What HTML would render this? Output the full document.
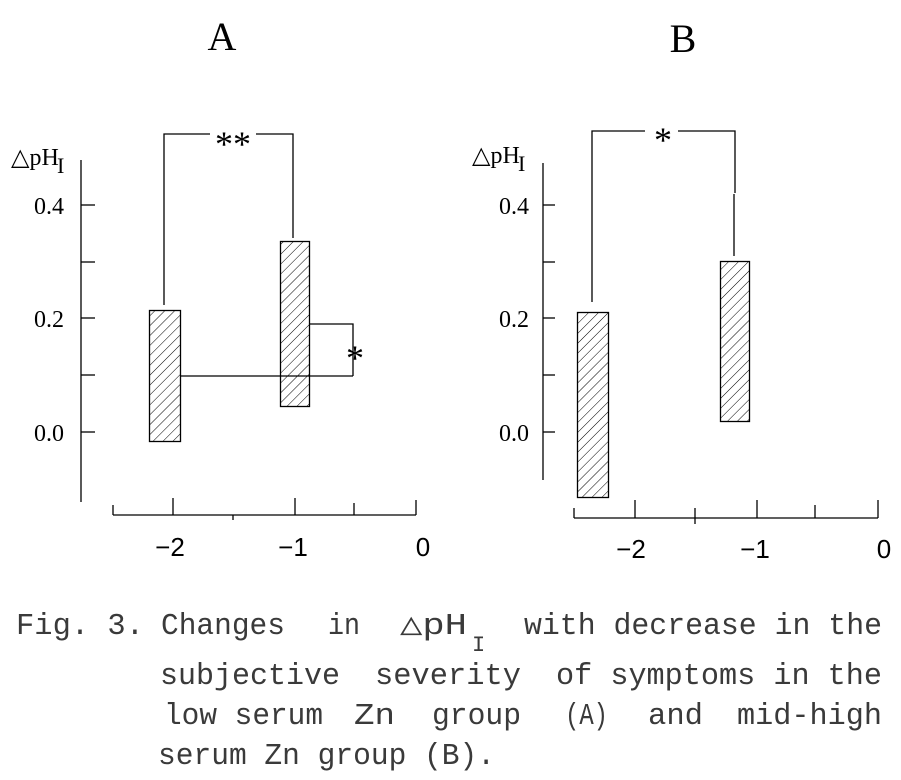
<!DOCTYPE html>
<html><head><meta charset="utf-8"><style>
html,body{margin:0;padding:0;background:#fff;}
svg{display:block;}
.s{font-family:"Liberation Serif",serif;fill:#000;}
.m{font-family:"Liberation Mono",monospace;fill:#3a3a3a;font-size:31px;}
.t{font-family:"Liberation Sans",sans-serif;fill:#000;font-size:26px;}
</style></head><body>
<svg width="901" height="780" viewBox="0 0 901 780" xmlns="http://www.w3.org/2000/svg">
<defs>
<pattern id="h" patternUnits="userSpaceOnUse" width="7" height="7" patternTransform="rotate(45)">
<rect width="7" height="7" fill="#fff"/>
<line x1="0" y1="0" x2="0" y2="7" stroke="#000" stroke-width="1"/>
</pattern>
</defs>
<rect width="901" height="780" fill="#fff"/>
<text class="s" x="222" y="50" font-size="40" text-anchor="middle">A</text>
<text class="s" x="683" y="52" font-size="40" text-anchor="middle">B</text>

<g stroke="#000" stroke-width="1.3" fill="none">
<line x1="81" y1="160" x2="81" y2="502"/>
<line x1="81" y1="205" x2="95" y2="205"/>
<line x1="81" y1="262" x2="95" y2="262"/>
<line x1="81" y1="318" x2="95" y2="318"/>
<line x1="81" y1="375" x2="95" y2="375"/>
<line x1="81" y1="432" x2="95" y2="432"/>
<line x1="113" y1="515" x2="416" y2="515"/>
<line x1="113" y1="505" x2="113" y2="515"/>
<line x1="173" y1="498" x2="173" y2="515"/>
<line x1="233" y1="515" x2="233" y2="520"/>
<line x1="295" y1="498" x2="295" y2="515"/>
<line x1="354" y1="503" x2="354" y2="515"/>
<line x1="416" y1="500" x2="416" y2="515"/>
<rect x="149.5" y="310.5" width="31" height="131" fill="url(#h)"/>
<rect x="280.5" y="241.5" width="29" height="165" fill="url(#h)"/>
<polyline points="164,305 164,134 210,134"/>
<polyline points="256,134 293,134 293,238"/>
<line x1="180" y1="376" x2="353" y2="376"/>
<polyline points="309,324 353,324 353,376"/>
<line x1="543" y1="163" x2="543" y2="480"/>
<line x1="543" y1="205" x2="555" y2="205"/>
<line x1="543" y1="262" x2="555" y2="262"/>
<line x1="543" y1="318" x2="555" y2="318"/>
<line x1="543" y1="375" x2="555" y2="375"/>
<line x1="543" y1="432" x2="555" y2="432"/>
<line x1="574" y1="518" x2="878" y2="518"/>
<line x1="574" y1="508" x2="574" y2="518"/>
<line x1="635" y1="500" x2="635" y2="518"/>
<line x1="695" y1="508" x2="695" y2="524"/>
<line x1="757" y1="500" x2="757" y2="518"/>
<line x1="815" y1="505" x2="815" y2="518"/>
<line x1="878" y1="500" x2="878" y2="518"/>
<rect x="577.5" y="312.5" width="31" height="185" fill="url(#h)"/>
<rect x="720.5" y="261.5" width="29" height="160" fill="url(#h)"/>
<polyline points="592,302 592,131 645,131"/>
<polyline points="678,131 735,131 735,193"/>
<line x1="734" y1="194" x2="734" y2="256"/>
</g>

<text class="s" x="233" y="156" font-size="36" text-anchor="middle">**</text>
<text class="s" x="355" y="370" font-size="36" text-anchor="middle">*</text>
<text class="s" x="663" y="152" font-size="36" text-anchor="middle">*</text>

<g class="s" font-size="24">
<text x="11" y="165">△pH</text><text x="57" y="173" font-size="22">I</text>
<text x="64" y="214" text-anchor="end">0.4</text>
<text x="64" y="327" text-anchor="end">0.2</text>
<text x="64" y="441" text-anchor="end">0.0</text>
<text x="472" y="163">△pH</text><text x="518" y="171" font-size="22">I</text>
<text x="529" y="214" text-anchor="end">0.4</text>
<text x="529" y="327" text-anchor="end">0.2</text>
<text x="529" y="441" text-anchor="end">0.0</text>
</g>
<g class="t" text-anchor="middle">
<text x="170" y="556">−2</text>
<text x="293" y="556">−1</text>
<text x="423" y="556">0</text>
<text x="631" y="558">−2</text>
<text x="755" y="558">−1</text>
<text x="884" y="558">0</text>
</g>

<g class="m">
<text x="16" y="634" textLength="128" lengthAdjust="spacingAndGlyphs">Fig. 3.</text>
<text x="161" y="634" textLength="124" lengthAdjust="spacingAndGlyphs">Changes</text>
<text x="328" y="634" textLength="32" lengthAdjust="spacingAndGlyphs">in</text>
<text x="400" y="634" textLength="67" lengthAdjust="spacingAndGlyphs">△pH</text>
<text x="472" y="651" font-size="22">I</text>
<text x="524" y="634" textLength="358" lengthAdjust="spacingAndGlyphs">with decrease in the</text>
<text x="160" y="684" textLength="180" lengthAdjust="spacingAndGlyphs">subjective</text>
<text x="375" y="684" textLength="146" lengthAdjust="spacingAndGlyphs">severity</text>
<text x="556" y="684" textLength="326" lengthAdjust="spacingAndGlyphs">of symptoms in the</text>
<text x="164" y="724" textLength="159" lengthAdjust="spacingAndGlyphs">low serum</text>
<text x="354" y="724" textLength="41" lengthAdjust="spacingAndGlyphs">Zn</text>
<text x="432" y="724" textLength="89" lengthAdjust="spacingAndGlyphs">group</text>
<text x="565" y="724" textLength="43" lengthAdjust="spacingAndGlyphs">(A)</text>
<text x="648" y="724" textLength="55" lengthAdjust="spacingAndGlyphs">and</text>
<text x="737" y="724" textLength="145" lengthAdjust="spacingAndGlyphs">mid-high</text>
<text x="158" y="764" textLength="337" lengthAdjust="spacingAndGlyphs">serum Zn group (B).</text>
</g>
</svg>
</body></html>
